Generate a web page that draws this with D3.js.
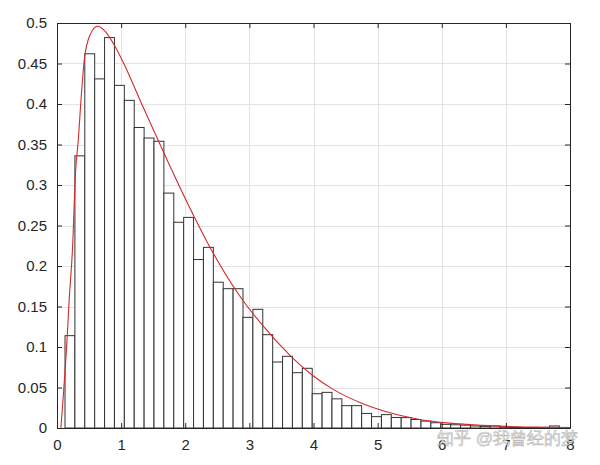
<!DOCTYPE html>
<html>
<head>
<meta charset="utf-8">
<script src="https://cdn.jsdelivr.net/npm/d3@7"></script>
<style>
  body { margin: 0; background: #fff; }
  text { font-family: "Liberation Sans", Arial, sans-serif; }
</style>
</head>
<body>
<script>
// histogram bins
const binStart = 0.125;
const binWidth = 0.1542;
const binHeights = [
  0.114, 0.336, 0.462, 0.431, 0.482, 0.423, 0.4045, 0.371, 0.358, 0.354,
  0.290, 0.254, 0.260, 0.208, 0.223, 0.180, 0.172, 0.172, 0.1366, 0.1465,
  0.1152, 0.0815, 0.0885, 0.0683, 0.0737, 0.0423, 0.044, 0.036, 0.0276, 0.0276,
  0.018, 0.014, 0.0165, 0.013, 0.0128, 0.0105, 0.0085, 0.0065, 0.0045, 0.004,
  0.0035, 0.0025, 0.002, 0.0025, 0.0015, 0.001, 0.0005, 0.0005, 0.0005, 0.0025
];

// fitted pdf curve
const curveX = [0.06, 0.16, 0.19, 0.241, 0.291, 0.332, 0.374, 0.425, 0.514, 0.634,
  0.748, 0.877, 1.06, 1.293, 1.527, 1.671, 2.07, 2.435, 2.85, 3.213,
  3.63, 3.993, 4.30, 4.771, 5.135, 5.654, 6.12, 6.5, 7.0, 7.5, 8.0];
const curveY = [0, 0.114, 0.158, 0.22, 0.3185, 0.3556, 0.405, 0.454, 0.485, 0.496,
  0.490, 0.475, 0.447, 0.405, 0.364, 0.339, 0.272, 0.216, 0.163, 0.126,
  0.090, 0.0645, 0.048, 0.030, 0.020, 0.0105, 0.006, 0.0038, 0.002, 0.0011, 0.0006];

const xTicks = [0, 1, 2, 3, 4, 5, 6, 7, 8];
const yTicks = [0, 0.05, 0.1, 0.15, 0.2, 0.25, 0.3, 0.35, 0.4, 0.45, 0.5];

const width = 600, height = 465;
const margin = {left: 57, top: 23, right: 30, bottom: 37};
const iw = width - margin.left - margin.right;
const ih = height - margin.top - margin.bottom;

const svg = d3.select("body").append("svg")
  .attr("width", width)
  .attr("height", height);

const g = svg.append("g").attr("transform", `translate(${margin.left},${margin.top})`);

const x = d3.scaleLinear().domain([0, 8]).range([0, iw]);
const y = d3.scaleLinear().domain([0, 0.5]).range([ih, 0]);

const axisColor = "#262626";

// grid
g.append("g").selectAll("line.gx").data(xTicks).enter().append("line")
  .attr("x1", d => Math.round(x(d)) + 0.5).attr("x2", d => Math.round(x(d)) + 0.5)
  .attr("y1", 0).attr("y2", ih)
  .attr("stroke", "#e3e3e3").attr("stroke-width", 1);
g.append("g").selectAll("line.gy").data(yTicks).enter().append("line")
  .attr("y1", d => Math.round(y(d)) + 0.5).attr("y2", d => Math.round(y(d)) + 0.5)
  .attr("x1", 0).attr("x2", iw)
  .attr("stroke", "#e3e3e3").attr("stroke-width", 1);

// bars
g.append("g").selectAll("rect").data(binHeights).enter().append("rect")
  .attr("x", (d, i) => x(binStart + i * binWidth))
  .attr("width", (d, i) => x(binStart + (i + 1) * binWidth) - x(binStart + i * binWidth))
  .attr("y", d => y(d))
  .attr("height", d => y(0) - y(d))
  .attr("fill", "#fff")
  .attr("stroke", "#333")
  .attr("stroke-width", 1);

// curve
const line = d3.line()
  .x(d => x(d[0]))
  .y(d => y(d[1]))
  .curve(d3.curveMonotoneX);
g.append("path")
  .datum(curveX.map((v, i) => [v, curveY[i]]))
  .attr("d", line)
  .attr("fill", "none")
  .attr("stroke", "#d42a2a")
  .attr("stroke-width", 1.1);

// axes
const fmt = d => String(+d.toFixed(2));
const styleAxis = sel => {
  sel.select(".domain").attr("stroke", axisColor);
  sel.selectAll(".tick line").attr("stroke", axisColor);
  sel.selectAll("text").attr("fill", axisColor).style("font-size", "15px")
    .style("font-family", "'Liberation Sans', Arial, sans-serif");
};

g.append("g").attr("transform", `translate(0,${ih})`)
  .call(d3.axisBottom(x).tickValues(xTicks).tickFormat(fmt).tickSizeInner(-5).tickSizeOuter(0).tickPadding(11))
  .call(styleAxis);
g.append("g")
  .call(d3.axisLeft(y).tickValues(yTicks).tickFormat(fmt).tickSizeInner(-5).tickSizeOuter(0).tickPadding(10))
  .call(styleAxis);
g.append("g")
  .call(d3.axisTop(x).tickValues(xTicks).tickFormat("").tickSizeInner(-5).tickSizeOuter(0))
  .call(styleAxis);
g.append("g").attr("transform", `translate(${iw},0)`)
  .call(d3.axisRight(y).tickValues(yTicks).tickFormat("").tickSizeInner(-5).tickSizeOuter(0))
  .call(styleAxis);

// watermark (overlaps the tick labels, as in the source image)
svg.append("text")
  .attr("x", 437).attr("y", 444)
  .attr("font-family", "'Noto Sans CJK SC', sans-serif")
  .attr("font-size", 17)
  .attr("fill", "#fff")
  .attr("fill-opacity", 0.85)
  .attr("stroke", "#8a8a8a")
  .attr("stroke-opacity", 0.6)
  .attr("stroke-width", 0.7)
  .text("知乎 @我曾经的梦");
</script>
</body>
</html>
